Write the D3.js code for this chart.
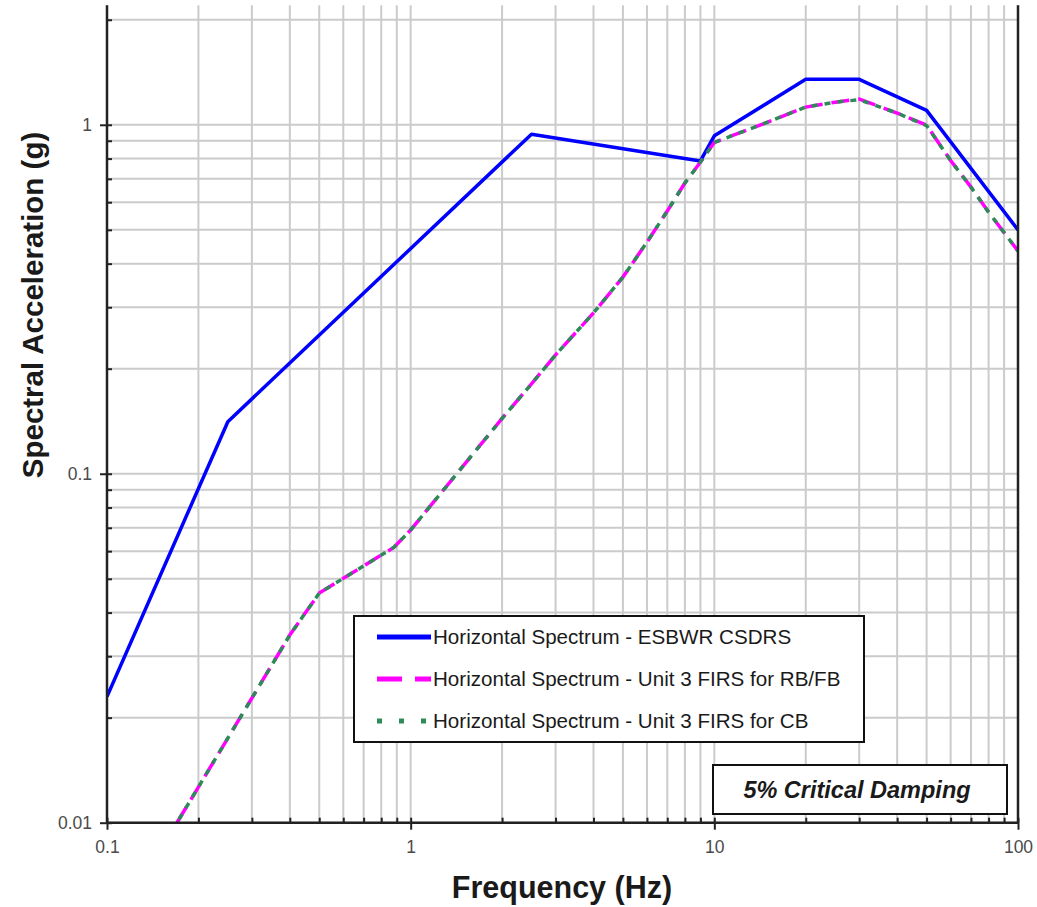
<!DOCTYPE html>
<html lang="en">
<head>
    <meta charset="utf-8">
    <title>Horizontal Spectra - ESBWR CSDRS vs Unit 3 FIRS</title>
    <style>
        body {
            margin: 0;
            background: #fff;
            font-family: "Liberation Sans", Arial, sans-serif;
        }
        svg { display: block; }
    </style>
</head>
<body>
    <script src="https://d3js.org/d3.v7.min.js"></script>
    <script>
    // Data (frequency in Hz, acceleration in g)
    var csdrsFreq = [0.1, 0.25, 2.5, 9, 10, 20, 30, 50, 100];
    var csdrsAcc  = [0.023, 0.141, 0.94, 0.788, 0.93, 1.35, 1.35, 1.1, 0.5];

    var firsRbFreq = [0.17, 0.4, 0.5, 0.88, 1.0, 2.0, 2.5, 3, 4, 5, 6, 7, 8, 9, 10, 15, 20, 25, 30, 40, 50, 60, 70, 80, 100];
    var firsRbAcc  = [0.01, 0.0345, 0.0455, 0.0615, 0.069, 0.144, 0.181, 0.219, 0.289, 0.366, 0.461, 0.566, 0.681, 0.782, 0.89, 1.018, 1.124, 1.161, 1.185, 1.08, 0.998, 0.79, 0.663, 0.562, 0.435];

    var firsCbFreq = [0.17, 0.4, 0.5, 0.88, 1.0, 2.0, 2.5, 3, 4, 5, 6, 7, 8, 9, 10, 15, 20, 25, 30, 40, 50, 60, 70, 80, 100];
    var firsCbAcc  = [0.01, 0.0345, 0.0455, 0.0615, 0.069, 0.144, 0.181, 0.219, 0.289, 0.366, 0.461, 0.566, 0.681, 0.782, 0.89, 1.018, 1.124, 1.161, 1.18, 1.08, 0.995, 0.79, 0.663, 0.562, 0.435];

    var seriesNames = [
        "Horizontal Spectrum - ESBWR CSDRS",
        "Horizontal Spectrum - Unit 3 FIRS for RB/FB",
        "Horizontal Spectrum - Unit 3 FIRS for CB"
    ];

    var xMajor = [0.1, 1, 10, 100];
    var xMajorLabels = ["0.1", "1", "10", "100"];
    var yMajor = [0.01, 0.1, 1];
    var yMajorLabels = ["0.01", "0.1", "1"];
    var noteText = "5% Critical Damping";

    var w = 1037, h = 907;
    var plotLeft = 107, plotRight = 1018, plotTop = 5.3, plotBottom = 822.7;

    var svg = d3.select("body").append("svg")
        .attr("width", w)
        .attr("height", h);

    var x = d3.scaleLog().domain([0.1, 100]).range([plotLeft, plotRight]);
    var y = d3.scaleLog().domain([0.01, 2.2]).range([plotBottom, plotTop]);

    // every 1..9 of each decade
    function minors(lo, hi) {
        var out = [];
        for (var p = lo; p < hi; p++) {
            for (var m = 1; m <= 9; m++) out.push(m * Math.pow(10, p));
        }
        return out;
    }
    var xGrid = minors(-1, 2).concat([100]).map(function(v) { return +v.toPrecision(3); });
    var yGrid = minors(-2, 0).concat([1, 2]).map(function(v) { return +v.toPrecision(3); });

    // Gridlines
    var grid = svg.append("g").attr("class", "grid")
        .attr("stroke", "#cbcbcb")
        .attr("stroke-width", 2);

    grid.selectAll(".vx").data(xGrid).enter().append("line")
        .attr("x1", function(d) { return x(d); })
        .attr("x2", function(d) { return x(d); })
        .attr("y1", plotTop)
        .attr("y2", plotBottom);

    grid.selectAll(".hy").data(yGrid).enter().append("line")
        .attr("x1", plotLeft)
        .attr("x2", plotRight)
        .attr("y1", function(d) { return y(d); })
        .attr("y2", function(d) { return y(d); });

    // Clip area for the curves
    svg.append("clipPath").attr("id", "plotClip")
        .append("rect")
        .attr("x", plotLeft).attr("y", plotTop)
        .attr("width", plotRight - plotLeft).attr("height", plotBottom - plotTop);

    var line = d3.line()
        .x(function(d) { return x(d[0]); })
        .y(function(d) { return y(d[1]); });

    var curves = svg.append("g").attr("clip-path", "url(#plotClip)");

    curves.append("path")
        .datum(d3.zip(csdrsFreq, csdrsAcc))
        .attr("d", line)
        .attr("fill", "none")
        .attr("stroke", "#0000ff")
        .attr("stroke-width", 3.5)
        .attr("stroke-linejoin", "round");

    curves.append("path")
        .datum(d3.zip(firsRbFreq, firsRbAcc))
        .attr("d", line)
        .attr("fill", "none")
        .attr("stroke", "#ff00ff")
        .attr("stroke-width", 3.5)
        .attr("stroke-dasharray", "18,9");

    curves.append("path")
        .datum(d3.zip(firsCbFreq, firsCbAcc))
        .attr("d", line)
        .attr("fill", "none")
        .attr("stroke", "#2e8b57")
        .attr("stroke-width", 3.5)
        .attr("stroke-dasharray", "6,7")
        .attr("stroke-dashoffset", -4);

    // Axes: minor ticks inside, major ticks crossing the frame
    var axisColor = "#222";

    var yInner = svg.append("g")
        .attr("transform", "translate(" + plotLeft + ",0)")
        .call(d3.axisRight(y).tickValues(yGrid).tickSize(5).tickFormat(""));
    var yOuter = svg.append("g")
        .attr("transform", "translate(" + plotLeft + ",0)")
        .call(d3.axisLeft(y).tickValues(yMajor).tickSize(7).tickPadding(8)
            .tickFormat(function(d, i) { return yMajorLabels[i]; }));

    var xInner = svg.append("g")
        .attr("transform", "translate(0," + plotBottom + ")")
        .call(d3.axisTop(x).tickValues(xGrid).tickSize(5).tickFormat(""));
    var xOuter = svg.append("g")
        .attr("transform", "translate(0," + plotBottom + ")")
        .call(d3.axisBottom(x).tickValues(xMajor).tickSize(7).tickPadding(11)
            .tickFormat(function(d, i) { return xMajorLabels[i]; }));

    [yInner, yOuter, xInner, xOuter].forEach(function(g) {
        g.select(".domain").remove();
        g.selectAll(".tick line").attr("stroke", axisColor).attr("stroke-width", 2);
        g.selectAll(".tick text")
            .attr("fill", "#4a4a4a")
            .style("font-family", "'Liberation Sans', Arial, sans-serif")
            .style("font-size", "17.5px");
    });

    // Frame lines (left, bottom, right)
    var frame = svg.append("g").attr("stroke", axisColor).attr("stroke-width", 2.5);
    frame.append("line").attr("x1", plotLeft).attr("x2", plotLeft).attr("y1", plotTop).attr("y2", plotBottom);
    frame.append("line").attr("x1", plotRight).attr("x2", plotRight).attr("y1", plotTop).attr("y2", plotBottom);
    frame.append("line").attr("x1", plotLeft).attr("x2", plotRight).attr("y1", plotBottom).attr("y2", plotBottom);

    // Axis titles
    svg.append("text")
        .attr("x", 562)
        .attr("y", 898)
        .attr("text-anchor", "middle")
        .style("font-size", "30.5px")
        .style("font-weight", "bold")
        .attr("fill", "#1a1a1a")
        .text("Frequency (Hz)");

    svg.append("text")
        .attr("transform", "translate(43,305) rotate(-90)")
        .attr("text-anchor", "middle")
        .style("font-size", "29.5px")
        .style("font-weight", "bold")
        .attr("fill", "#1a1a1a")
        .text("Spectral Acceleration (g)");

    // Legend
    var legend = svg.append("g").attr("transform", "translate(354,616)");
    legend.append("rect")
        .attr("width", 510).attr("height", 126)
        .attr("fill", "#fff")
        .attr("stroke", "#111")
        .attr("stroke-width", 2);

    var legendStyles = [
        { color: "#0000ff", dash: null },
        { color: "#ff00ff", dash: "25,13" },
        { color: "#2e8b57", dash: "5,17" }
    ];

    var rows = legend.selectAll(".row").data(seriesNames).enter().append("g")
        .attr("transform", function(d, i) { return "translate(0," + (21 + i * 42) + ")"; });

    rows.append("line")
        .attr("x1", 23).attr("x2", 77)
        .attr("stroke", function(d, i) { return legendStyles[i].color; })
        .attr("stroke-width", 5)
        .attr("stroke-dasharray", function(d, i) { return legendStyles[i].dash; });

    rows.append("text")
        .attr("x", 79)
        .attr("dy", "0.36em")
        .style("font-size", "20.6px")
        .attr("fill", "#1a1a1a")
        .text(function(d) { return d; });

    // Damping note
    var note = svg.append("g").attr("transform", "translate(713,765)");
    note.append("rect")
        .attr("width", 294).attr("height", 49)
        .attr("fill", "#fff")
        .attr("stroke", "#111")
        .attr("stroke-width", 2);
    note.append("text")
        .attr("x", 144).attr("y", 25)
        .attr("dy", "0.36em")
        .attr("text-anchor", "middle")
        .style("font-size", "23.5px")
        .style("font-weight", "bold")
        .style("font-style", "italic")
        .attr("fill", "#1a1a1a")
        .text(noteText);
    </script>
</body>
</html>
